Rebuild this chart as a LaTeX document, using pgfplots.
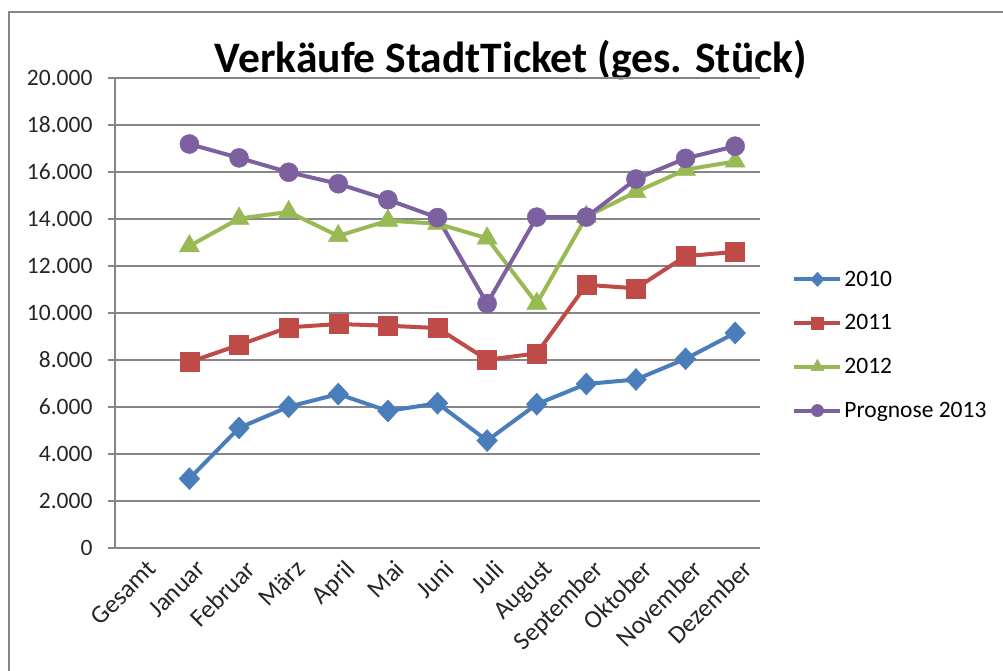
\documentclass[border=0pt]{standalone}
\usepackage{pgfplots}
\pgfplotsset{compat=1.18}
\usepackage{fontspec}
\setmainfont{Carlito}
\definecolor{cblue}{HTML}{4A7EBB}
\definecolor{cred}{HTML}{BE4B48}
\definecolor{cgreen}{HTML}{98B954}
\definecolor{cpurple}{HTML}{7D60A0}
\definecolor{gridgray}{HTML}{868686}
\begin{document}
\begin{tikzpicture}
\path[use as bounding box] (0pt,0pt) rectangle (1003pt,670pt);
\draw[gridgray, line width=1.5pt] (9pt,-5pt) -- (9pt,658pt) -- (1010pt,658pt);
\node[font=\fontsize{43.5}{46}\selectfont\bfseries, anchor=center] at (511pt,610pt) {Verkäufe StadtTicket (ges. Stück)};
\begin{axis}[
  at={(115pt,122pt)}, anchor=south west,
  scale only axis, width=645pt, height=470pt,
  xmin=0, xmax=13, ymin=0, ymax=20000,
  scaled y ticks=false,
  axis lines*=left,
  axis line style={gridgray, line width=1.3pt},
  tick style={gridgray, line width=1.3pt},
  tick align=outside,
  ymajorgrids, grid style={gridgray, line width=1.3pt},
  ytick={0,2000,...,20000},
  yticklabels={0,2.000,4.000,6.000,8.000,10.000,12.000,14.000,16.000,18.000,20.000},
  major tick length=7pt,
  xtick={0.5,1.5,...,12.5},
  xticklabels={Gesamt,Januar,Februar,März,April,Mai,Juni,Juli,August,September,Oktober,November,Dezember},
  x tick style={draw=none},
  minor xtick={0,1,...,13},
  minor x tick style={gridgray, line width=1.3pt},
  minor tick length=7pt,
  ticklabel style={text=black!85},
  yticklabel style={font=\fontsize{23.5}{26}\selectfont, xshift=-12pt},
  xticklabel style={font=\fontsize{25.5}{28}\selectfont, rotate=45, anchor=north east, xshift=5pt, yshift=-3pt},
  legend style={draw=none, fill=none, at={(1.05,0.432)}, anchor=west,
    font=\fontsize{23.5}{26}\selectfont, row sep=23pt, inner sep=0pt,
    /tikz/every even column/.append style={column sep=4pt}},
  legend cell align=left,
  legend image code/.code={\draw[mark repeat=2, mark phase=2, every mark/.append style={scale=0.65}] plot coordinates {(0pt,0pt) (23pt,0pt) (46pt,0pt)};},
  every axis plot/.append style={line width=4pt},
]
\addplot[cblue, mark=diamond*, mark size=11pt, mark options={solid, fill=cblue, draw=cblue, xscale=1.25, line width=0.5pt}] coordinates {
(1.5,2950) (2.5,5110) (3.5,6010) (4.5,6550) (5.5,5830) (6.5,6160) (7.5,4570) (8.5,6120) (9.5,6980) (10.5,7170) (11.5,8050) (12.5,9150)};
\addlegendentry{2010}
\addplot[cred, mark=square*, mark size=9.5pt, mark options={solid, fill=cred, draw=cred, line width=0.5pt}] coordinates {
(1.5,7910) (2.5,8640) (3.5,9390) (4.5,9530) (5.5,9460) (6.5,9360) (7.5,8010) (8.5,8280) (9.5,11200) (10.5,11050) (11.5,12420) (12.5,12600)};
\addlegendentry{2011}
\addplot[cgreen, mark=triangle*, mark size=11.5pt, mark options={solid, fill=cgreen, draw=cgreen, line width=0.5pt}] coordinates {
(1.5,12850) (2.5,14020) (3.5,14300) (4.5,13280) (5.5,13930) (6.5,13800) (7.5,13180) (8.5,10400) (9.5,14100) (10.5,15150) (11.5,16100) (12.5,16450)};
\addlegendentry{2012}
\addplot[cpurple, mark=*, mark size=9.5pt, mark options={solid, fill=cpurple, draw=cpurple, line width=0.5pt}] coordinates {
(1.5,17190) (2.5,16600) (3.5,15990) (4.5,15500) (5.5,14820) (6.5,14060) (7.5,10400) (8.5,14080) (9.5,14080) (10.5,15700) (11.5,16580) (12.5,17100)};
\addlegendentry{Prognose 2013}
\end{axis}
\end{tikzpicture}
\end{document}
